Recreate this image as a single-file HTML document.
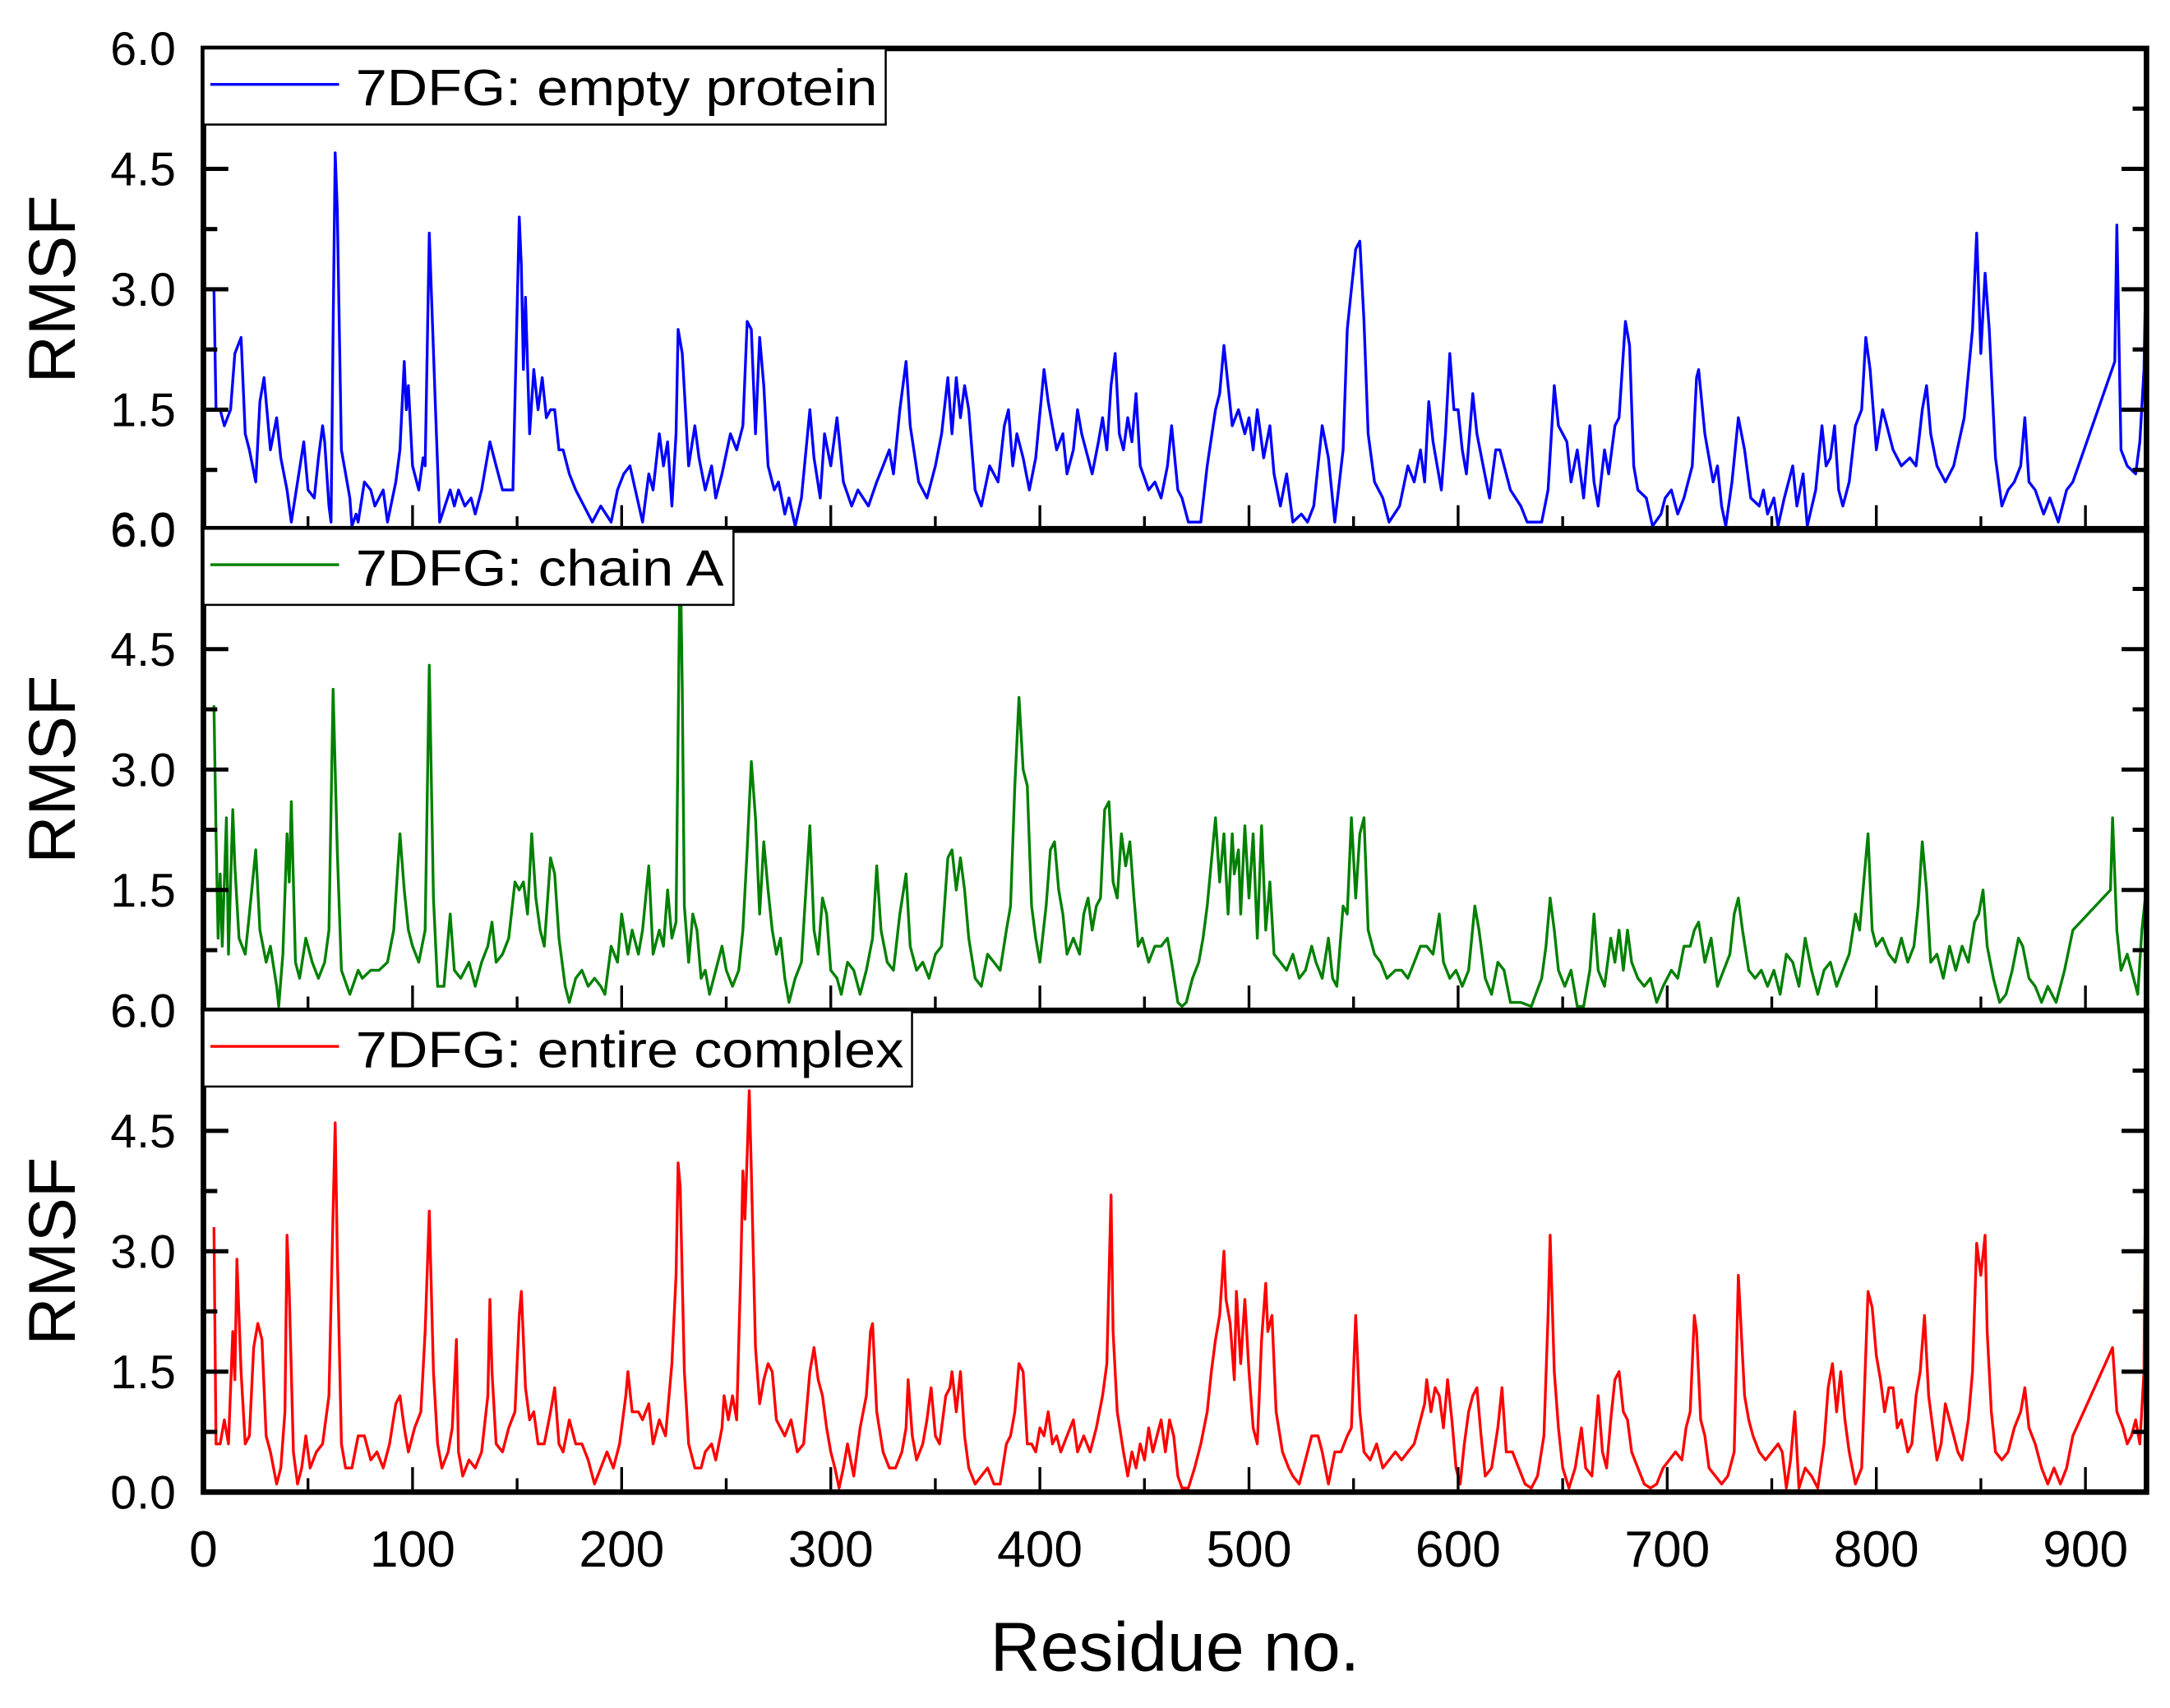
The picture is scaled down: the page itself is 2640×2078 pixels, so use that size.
<!DOCTYPE html>
<html><head><meta charset="utf-8"><style>
html,body{margin:0;padding:0;background:#fff;}
svg{display:block;font-family:"Liberation Sans",Arial,sans-serif;}
</style></head><body>
<svg id="chart" width="2640" height="2078" viewBox="0 0 1568 1234" preserveAspectRatio="none" xmlns="http://www.w3.org/2000/svg">
<rect width="1568" height="1234" fill="#fff"/>
<g id="plots"></g>
<text x="849" y="1207" font-size="50" text-anchor="middle">Residue no.</text>
</svg>
<script>
const xTicks = [0,100,200,300,400,500,600,700,800,900];
const yTicks = [0,1.5,3.0,4.5,6.0];
const emptyProtein = [[5,3.0],[6,1.5],[8,1.5],[10,1.3],[13,1.5],[15,2.2],[18,2.4],[20,1.2],[22,1.0],[25,0.6],[27,1.6],[29,1.9],[32,1.0],[35,1.4],[37,0.9],[40,0.5],[42,0.1],[45,0.6],[48,1.1],[50,0.5],[53,0.4],[55,0.9],[57,1.3],[58,1.1],[60,0.3],[61,0.1],[62,2.5],[63,4.7],[64,4.0],[66,1.0],[70,0.4],[71,0.05],[73,0.2],[74,0.1],[77,0.6],[80,0.5],[82,0.3],[86,0.5],[88,0.1],[92,0.6],[94,1.0],[96,2.1],[97,1.5],[98,1.8],[100,0.8],[103,0.5],[105,0.9],[106,0.8],[108,3.7],[111,1.5],[113,0.1],[118,0.5],[120,0.3],[122,0.5],[125,0.3],[128,0.4],[130,0.2],[133,0.5],[137,1.1],[140,0.8],[143,0.5],[148,0.5],[151,3.9],[152,3.3],[153,2.0],[154,2.9],[156,1.2],[158,2.0],[160,1.5],[162,1.9],[164,1.4],[166,1.5],[168,1.5],[170,1.0],[172,1.0],[175,0.7],[178,0.5],[182,0.3],[186,0.1],[190,0.3],[195,0.1],[198,0.5],[201,0.7],[204,0.8],[210,0.1],[213,0.7],[215,0.5],[218,1.2],[220,0.8],[222,1.1],[224,0.3],[226,1.2],[227,2.5],[229,2.2],[232,0.8],[235,1.3],[237,0.9],[240,0.5],[243,0.8],[245,0.4],[248,0.7],[252,1.2],[255,1.0],[258,1.3],[260,2.6],[262,2.5],[264,1.2],[266,2.4],[268,1.8],[270,0.8],[273,0.5],[275,0.6],[278,0.2],[280,0.4],[283,0.05],[286,0.4],[290,1.5],[292,0.9],[295,0.4],[297,1.2],[300,0.8],[303,1.4],[306,0.6],[310,0.3],[313,0.5],[318,0.3],[322,0.6],[325,0.8],[328,1.0],[330,0.7],[333,1.5],[336,2.1],[338,1.3],[342,0.6],[346,0.4],[350,0.8],[353,1.2],[356,1.9],[358,1.2],[360,1.9],[362,1.4],[364,1.8],[366,1.5],[369,0.5],[372,0.3],[376,0.8],[380,0.6],[383,1.3],[385,1.5],[387,0.8],[389,1.2],[392,0.9],[395,0.5],[398,0.9],[402,2.0],[404,1.6],[408,1.0],[411,1.2],[413,0.7],[416,1.0],[418,1.5],[420,1.2],[423,0.9],[425,0.7],[428,1.1],[430,1.4],[432,1.0],[434,1.8],[436,2.2],[438,1.2],[440,1.0],[442,1.4],[444,1.1],[446,1.7],[448,0.8],[452,0.5],[455,0.6],[458,0.4],[461,0.8],[463,1.3],[466,0.5],[468,0.4],[471,0.1],[477,0.1],[480,0.8],[484,1.5],[486,1.7],[488,2.3],[490,1.8],[492,1.3],[495,1.5],[498,1.2],[500,1.4],[502,1.0],[504,1.5],[507,0.9],[510,1.3],[512,0.7],[515,0.3],[518,0.7],[521,0.1],[525,0.2],[528,0.1],[531,0.3],[535,1.3],[538,0.9],[541,0.1],[545,1.0],[547,2.5],[549,3.0],[551,3.5],[553,3.6],[555,2.6],[557,1.2],[560,0.6],[564,0.4],[567,0.1],[572,0.3],[576,0.8],[579,0.6],[582,1.0],[584,0.6],[586,1.6],[588,1.1],[592,0.5],[594,1.2],[596,2.2],[598,1.5],[600,1.5],[602,1.0],[604,0.7],[607,1.7],[609,1.2],[612,0.8],[615,0.4],[618,1.0],[620,1.0],[625,0.5],[630,0.3],[633,0.1],[640,0.1],[643,0.5],[646,1.8],[648,1.3],[652,1.1],[654,0.6],[657,1.0],[660,0.4],[663,1.3],[665,0.6],[667,0.3],[670,1.0],[672,0.7],[675,1.3],[677,1.4],[680,2.6],[682,2.3],[684,0.8],[686,0.5],[690,0.4],[693,0.05],[697,0.2],[699,0.4],[702,0.5],[705,0.2],[708,0.4],[712,0.8],[714,1.9],[715,2.0],[718,1.2],[722,0.6],[724,0.8],[726,0.3],[728,0.05],[731,0.6],[734,1.4],[737,1.0],[740,0.4],[744,0.3],[746,0.5],[748,0.2],[751,0.4],[753,0.05],[756,0.4],[760,0.8],[762,0.3],[765,0.7],[767,0.05],[771,0.5],[774,1.3],[776,0.8],[778,0.9],[780,1.3],[782,0.5],[784,0.3],[787,0.6],[790,1.3],[793,1.5],[795,2.4],[797,2.0],[800,1.0],[803,1.5],[805,1.3],[808,1.0],[812,0.8],[816,0.9],[819,0.8],[822,1.5],[824,1.8],[826,1.2],[829,0.8],[833,0.6],[837,0.8],[842,1.4],[846,2.5],[848,3.7],[850,2.2],[852,3.2],[854,2.5],[857,0.9],[860,0.3],[863,0.5],[866,0.6],[869,0.8],[871,1.4],[873,0.6],[876,0.5],[880,0.2],[883,0.4],[887,0.1],[891,0.5],[894,0.6],[914,2.1],[915,3.8],[917,1.0],[920,0.8],[924,0.7],[926,1.1],[928,2.0],[929,3.4]];
const chainA = [[5,3.8],[6,2.2],[7,0.9],[8,1.7],[9,0.8],[11,2.4],[12,0.7],[14,2.5],[15,1.8],[17,0.9],[20,0.7],[22,1.2],[25,2.0],[27,1.0],[30,0.6],[32,0.8],[35,0.3],[36,0.05],[38,0.7],[40,2.2],[41,1.6],[42,2.6],[44,0.6],[46,0.4],[49,0.9],[52,0.6],[55,0.4],[58,0.6],[60,1.0],[62,4.0],[64,2.0],[66,0.5],[70,0.2],[74,0.5],[76,0.4],[80,0.5],[84,0.5],[88,0.6],[91,1.0],[94,2.2],[96,1.5],[98,1.0],[100,0.8],[103,0.6],[106,1.0],[108,4.3],[110,1.4],[112,0.3],[115,0.3],[118,1.2],[120,0.5],[123,0.4],[127,0.6],[130,0.3],[133,0.6],[136,0.8],[138,1.1],[140,0.6],[143,0.7],[146,0.9],[149,1.6],[151,1.5],[153,1.6],[155,1.2],[157,2.2],[159,1.4],[161,1.0],[163,0.8],[166,1.9],[168,1.7],[170,0.9],[173,0.3],[175,0.1],[178,0.4],[181,0.5],[184,0.3],[187,0.4],[190,0.3],[192,0.2],[195,0.8],[198,0.6],[200,1.2],[203,0.7],[205,1.0],[208,0.7],[210,1.0],[213,1.8],[215,0.7],[218,1.0],[220,0.8],[222,1.5],[224,0.9],[226,1.1],[227,3.5],[228,5.8],[229,4.0],[230,1.3],[232,0.6],[234,1.2],[236,1.0],[238,0.4],[240,0.5],[242,0.2],[245,0.5],[248,0.8],[250,0.5],[253,0.3],[256,0.5],[258,1.0],[260,2.0],[262,3.1],[264,2.4],[266,1.2],[268,2.1],[270,1.5],[272,1.0],[274,0.7],[276,0.9],[278,0.4],[280,0.1],[283,0.4],[286,0.6],[290,2.3],[292,1.0],[294,0.7],[296,1.4],[298,1.2],[300,0.5],[303,0.4],[305,0.2],[308,0.6],[311,0.5],[314,0.2],[317,0.5],[320,0.9],[322,1.8],[324,1.0],[327,0.6],[330,0.5],[333,1.2],[336,1.7],[338,0.8],[341,0.5],[344,0.6],[347,0.4],[350,0.7],[353,0.8],[356,1.9],[358,2.0],[360,1.5],[362,1.9],[364,1.5],[366,0.9],[369,0.4],[372,0.3],[375,0.7],[378,0.6],[381,0.5],[384,1.0],[386,1.3],[388,2.8],[390,3.9],[392,3.0],[394,2.8],[396,1.3],[398,0.9],[400,0.6],[403,1.3],[405,2.0],[407,2.1],[409,1.5],[411,1.2],[413,0.7],[416,0.9],[419,0.7],[421,1.2],[423,1.4],[425,1.0],[427,1.3],[429,1.4],[431,2.5],[433,2.6],[435,1.6],[437,1.4],[439,2.2],[441,1.8],[443,2.1],[445,1.4],[447,0.8],[449,0.9],[452,0.6],[455,0.8],[458,0.8],[461,0.9],[463,0.6],[466,0.1],[468,0.05],[470,0.1],[473,0.4],[476,0.6],[478,0.9],[480,1.3],[484,2.4],[486,1.6],[488,2.2],[489,1.7],[490,1.2],[492,2.2],[493,1.7],[495,2.0],[496,1.2],[498,2.3],[500,1.4],[502,2.2],[504,0.9],[506,2.3],[508,1.0],[510,1.6],[512,0.7],[515,0.6],[518,0.5],[521,0.7],[524,0.4],[527,0.5],[530,0.8],[532,0.6],[535,0.4],[538,0.9],[540,0.4],[542,0.3],[545,1.3],[547,1.2],[549,2.4],[551,1.4],[553,2.2],[555,2.4],[557,1.0],[560,0.7],[563,0.6],[566,0.4],[570,0.5],[573,0.5],[576,0.4],[579,0.6],[582,0.8],[585,0.8],[588,0.7],[591,1.2],[593,0.6],[596,0.4],[599,0.5],[602,0.3],[605,0.5],[608,1.3],[610,1.0],[613,0.4],[616,0.2],[619,0.6],[622,0.5],[625,0.1],[630,0.1],[635,0.05],[640,0.4],[642,0.8],[644,1.4],[646,1.0],[648,0.5],[651,0.3],[654,0.5],[657,0.05],[660,0.05],[663,0.5],[665,1.2],[667,0.5],[670,0.3],[673,0.9],[675,0.6],[677,1.0],[679,0.5],[681,1.0],[683,0.6],[686,0.4],[689,0.3],[692,0.4],[695,0.1],[698,0.3],[702,0.5],[705,0.4],[708,0.8],[711,0.8],[713,1.0],[715,1.1],[718,0.6],[721,0.9],[724,0.3],[727,0.5],[730,0.7],[732,1.2],[734,1.4],[736,1.0],[739,0.5],[742,0.4],[745,0.5],[748,0.3],[751,0.5],[754,0.2],[757,0.7],[760,0.6],[763,0.3],[766,0.9],[769,0.5],[772,0.2],[775,0.5],[778,0.6],[781,0.3],[784,0.5],[787,0.7],[790,1.2],[792,1.0],[794,1.6],[796,2.2],[798,1.0],[800,0.8],[803,0.9],[806,0.7],[809,0.6],[812,0.9],[815,0.6],[818,0.8],[820,1.3],[822,2.1],[824,1.5],[826,0.6],[829,0.7],[832,0.4],[835,0.8],[838,0.5],[841,0.8],[844,0.6],[847,1.1],[849,1.2],[851,1.5],[853,0.8],[856,0.4],[859,0.1],[862,0.2],[865,0.5],[868,0.9],[870,0.8],[873,0.4],[876,0.3],[879,0.1],[882,0.3],[886,0.1],[890,0.5],[894,1.0],[912,1.5],[913,2.4],[915,1.0],[917,0.5],[920,0.7],[923,0.4],[925,0.2],[927,1.0],[929,1.5]];
const entireComplex = [[5,3.3],[6,0.6],[8,0.6],[10,0.9],[12,0.6],[14,2.0],[15,1.4],[16,2.9],[18,1.5],[20,0.6],[22,0.7],[24,1.8],[26,2.1],[28,1.9],[30,0.7],[32,0.5],[35,0.1],[37,0.3],[39,1.0],[40,3.2],[41,2.5],[43,0.5],[45,0.1],[47,0.3],[49,0.7],[51,0.3],[54,0.5],[57,0.6],[60,1.2],[62,3.5],[63,4.6],[64,3.0],[66,0.6],[68,0.3],[71,0.3],[74,0.7],[77,0.7],[80,0.4],[83,0.5],[86,0.3],[89,0.6],[92,1.1],[94,1.2],[96,0.8],[98,0.5],[101,0.8],[104,1.0],[106,2.0],[108,3.5],[110,1.5],[112,0.6],[114,0.3],[117,0.5],[119,0.8],[121,1.9],[122,0.5],[124,0.2],[127,0.4],[130,0.3],[133,0.5],[136,1.2],[137,2.4],[138,1.5],[140,0.6],[143,0.5],[146,0.8],[149,1.0],[151,2.2],[152,2.5],[154,1.3],[156,0.9],[158,1.0],[160,0.6],[163,0.6],[166,1.0],[168,1.3],[170,0.6],[172,0.5],[175,0.9],[178,0.6],[181,0.6],[184,0.4],[187,0.1],[190,0.3],[193,0.5],[196,0.3],[199,0.6],[202,1.2],[203,1.5],[205,1.0],[208,1.0],[210,0.9],[213,1.1],[215,0.6],[218,0.9],[221,0.7],[224,1.6],[226,2.7],[227,4.1],[228,3.8],[230,1.5],[232,0.6],[235,0.3],[238,0.3],[240,0.5],[243,0.6],[245,0.4],[248,0.8],[249,1.2],[251,0.9],[253,1.2],[255,0.9],[257,2.8],[258,4.0],[259,3.4],[260,4.2],[261,5.0],[262,4.0],[264,1.8],[266,1.1],[268,1.4],[270,1.6],[272,1.5],[274,0.9],[276,0.8],[278,0.7],[281,0.9],[284,0.5],[287,0.6],[290,1.5],[292,1.8],[294,1.4],[296,1.2],[298,0.8],[300,0.5],[302,0.3],[304,0.05],[306,0.3],[308,0.6],[311,0.2],[314,0.8],[317,1.2],[319,2.0],[320,2.1],[322,1.0],[325,0.5],[328,0.3],[331,0.3],[334,0.5],[336,0.8],[337,1.4],[339,0.7],[341,0.4],[344,0.6],[346,0.9],[348,1.3],[350,0.7],[352,0.6],[355,1.2],[357,1.3],[358,1.5],[360,1.0],[362,1.5],[364,0.7],[366,0.3],[369,0.1],[372,0.2],[375,0.3],[378,0.1],[381,0.1],[384,0.6],[386,0.7],[388,1.0],[390,1.6],[392,1.5],[394,0.6],[396,0.6],[398,0.5],[400,0.8],[402,0.7],[404,1.0],[406,0.6],[408,0.7],[410,0.5],[413,0.7],[416,0.9],[418,0.5],[421,0.7],[424,0.5],[427,0.8],[430,1.2],[432,1.6],[434,3.7],[435,2.0],[437,1.0],[440,0.5],[442,0.2],[444,0.5],[446,0.3],[448,0.6],[450,0.4],[452,0.8],[454,0.5],[456,0.7],[458,0.9],[460,0.5],[462,0.9],[464,0.7],[466,0.2],[468,0.05],[471,0.05],[474,0.3],[477,0.6],[480,1.0],[482,1.5],[484,1.9],[486,2.2],[488,3.0],[489,2.4],[491,2.1],[493,1.4],[494,2.5],[496,1.6],[498,2.4],[500,1.5],[502,0.8],[504,0.6],[506,1.9],[508,2.6],[509,2.0],[511,2.2],[513,1.0],[516,0.5],[519,0.3],[521,0.2],[524,0.1],[527,0.4],[530,0.7],[533,0.7],[535,0.5],[538,0.1],[541,0.5],[544,0.5],[547,0.7],[549,0.8],[551,2.2],[553,1.0],[555,0.5],[558,0.4],[561,0.6],[564,0.3],[567,0.4],[570,0.5],[573,0.4],[576,0.5],[579,0.6],[582,0.9],[584,1.1],[585,1.4],[587,1.0],[589,1.3],[591,1.2],[593,0.8],[595,1.4],[597,0.9],[599,0.3],[601,0.1],[603,0.6],[605,1.0],[607,1.2],[609,1.3],[611,0.7],[613,0.2],[616,0.3],[619,0.8],[621,1.3],[623,0.5],[626,0.5],[629,0.3],[632,0.1],[635,0.05],[638,0.2],[641,0.7],[643,2.2],[644,3.2],[646,1.5],[648,0.8],[650,0.3],[653,0.05],[656,0.3],[659,0.8],[661,0.3],[664,0.2],[667,1.2],[669,0.5],[671,0.3],[673,0.9],[675,1.4],[677,1.5],[679,1.0],[681,0.9],[683,0.5],[686,0.3],[689,0.1],[692,0.05],[695,0.1],[698,0.3],[701,0.4],[704,0.5],[707,0.4],[709,0.8],[711,1.0],[713,2.2],[714,2.0],[716,0.9],[718,0.7],[720,0.3],[723,0.2],[726,0.1],[729,0.2],[732,0.5],[734,2.7],[735,2.2],[737,1.2],[739,0.9],[741,0.7],[744,0.5],[747,0.4],[750,0.5],[753,0.6],[755,0.5],[757,0.05],[759,0.4],[761,1.0],[763,0.05],[766,0.3],[769,0.2],[772,0.05],[775,0.6],[777,1.3],[779,1.6],[781,1.0],[783,1.5],[785,0.9],[787,0.5],[790,0.1],[793,0.3],[796,2.5],[798,2.3],[800,1.7],[802,1.4],[804,1.0],[806,1.3],[808,1.3],[810,0.8],[812,0.9],[815,0.5],[817,0.6],[819,1.2],[821,1.5],[823,2.2],[825,1.2],[827,0.8],[829,0.4],[831,0.6],[833,1.1],[835,0.9],[837,0.7],[839,0.5],[841,0.4],[844,0.9],[846,1.5],[848,3.1],[850,2.7],[852,3.2],[853,2.0],[855,1.0],[857,0.5],[860,0.4],[863,0.5],[866,0.8],[869,1.0],[871,1.3],[873,0.8],[876,0.6],[879,0.3],[882,0.1],[885,0.3],[888,0.1],[891,0.3],[894,0.7],[913,1.8],[915,1.0],[918,0.8],[920,0.6],[922,0.7],[924,0.9],[926,0.6],[928,1.5],[929,4.9]];
const panelLabels = ["7DFG: empty protein","7DFG: chain A","7DFG: entire complex"];
const panelColors = ["#0000ff","#008000","#ff0000"];

const NS = "http://www.w3.org/2000/svg";
const L = 147, R = 1551, XMAX = (R - L) / 1.511;
const tops = [35, 382, 730], PH = 348;
const legendW = [493, 383, 512];
const legendTextW = [377, 266, 396];
function sx(v){ return L + (v / XMAX) * (R - L); }
function mk(tag, attrs, parent){ const e = document.createElementNS(NS, tag); for (const k in attrs) e.setAttribute(k, attrs[k]); parent.appendChild(e); return e; }
const root = document.getElementById('plots');
const series = [emptyProtein, chainA, entireComplex];
series.forEach((data, i) => {
  const top = tops[i], bot = top + PH;
  const sy = v => bot - (v / 6) * PH;
  const g = mk('g', {}, root);
  
  
  const d = data.map((p, j) => (j ? 'L' : 'M') + sx(p[0]).toFixed(1) + ' ' + sy(p[1]).toFixed(1)).join(' ');
  const path = mk('path', {d: d, fill: 'none', stroke: panelColors[i], 'stroke-width': 2, 'stroke-linejoin': 'round'}, g);
  
  
  for (let v = 0; v <= 6.001; v += 0.75) {
    const major = Math.abs((v / 1.5) - Math.round(v / 1.5)) < 1e-6;
    const len = major ? 18 : 10;
    mk('line', {x1: L, x2: L + len, y1: sy(v), y2: sy(v), stroke: '#000', 'stroke-width': 3}, g);
    mk('line', {x1: R, x2: R - len, y1: sy(v), y2: sy(v), stroke: '#000', 'stroke-width': 3}, g);
  }
  yTicks.forEach(v => {
    if (i < 2 && v === 0) return;
    const t = mk('text', {x: 127, y: sy(v) + 12, 'font-size': 34, 'text-anchor': 'end'}, g);
    t.textContent = v.toFixed(1);
    
    
  });
  if (i < 2) {
    const t = mk('text', {x: 127, y: bot + 12, 'font-size': 34, 'text-anchor': 'end'}, g);
    t.textContent = '6.0';
    
    
  }
  for (let v = 0; v <= XMAX; v += 50) {
    const len = (v % 100 === 0) ? 18 : 10;
    mk('line', {x1: sx(v), x2: sx(v), y1: bot, y2: bot - len, stroke: '#000', 'stroke-width': 2}, g);
  }
  mk('rect', {x: L, y: top, width: R - L, height: PH, fill: 'none', stroke: '#000', 'stroke-width': 4}, g);
  const yt = mk('text', {x: 0, y: 0, 'font-size': 48, 'text-anchor': 'middle', transform: 'translate(54 ' + (top + PH / 2) + ') rotate(-90)'}, g);
  yt.textContent = 'RMSF';
  
  
  const lg = mk('g', {}, g);
  
  
  mk('rect', {x: L, y: top, width: legendW[i], height: 55, fill: '#fff', stroke: '#000', 'stroke-width': 1.5}, lg);
  mk('line', {x1: L + 5, x2: L + 98, y1: top + 26, y2: top + 26, stroke: panelColors[i], 'stroke-width': 2}, lg);
  const lt = mk('text', {x: L + 110, y: top + 41, 'font-size': 37, textLength: legendTextW[i], lengthAdjust: 'spacingAndGlyphs'}, lg);
  lt.textContent = panelLabels[i];
});
xTicks.forEach(v => {
  const t = mk('text', {x: sx(v), y: 1132, 'font-size': 37, 'text-anchor': 'middle'}, root);
  t.textContent = v;
  
  
});
</script>
</body></html>
